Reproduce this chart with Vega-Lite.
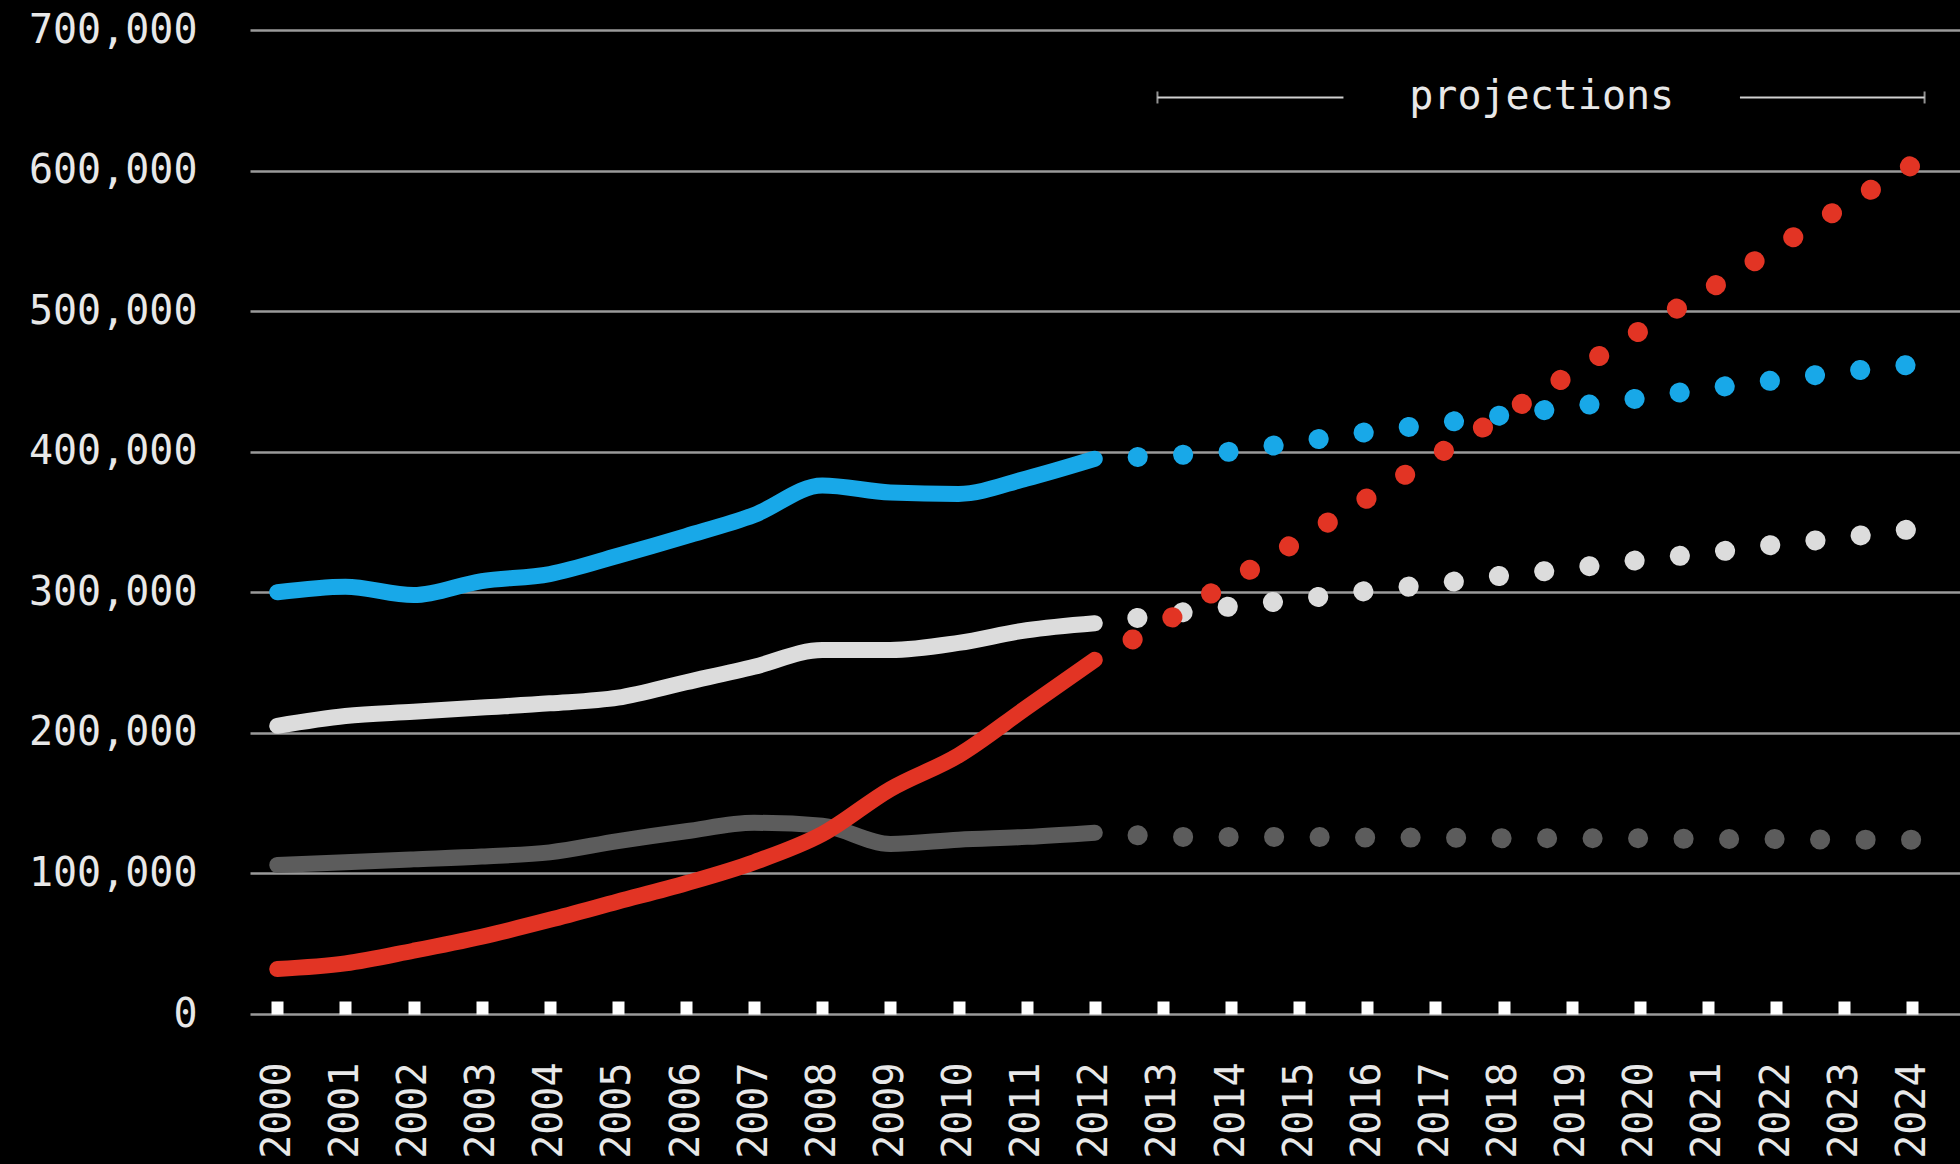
{
  "$schema": "https://vega.github.io/schema/vega-lite/v6.json",
  "width": 1710,
  "height": 984,
  "autosize": {"type": "none"},
  "padding": {"left": 250, "top": 30, "right": 0, "bottom": 150},
  "background": "#000000",
  "config": {"view": {"stroke": null}},
  "datasets": {
    "series": [
      {"year": 2000, "value": 300000, "series": "blue", "kind": "actual"},
      {"year": 2001, "value": 304000, "series": "blue", "kind": "actual"},
      {"year": 2002, "value": 298000, "series": "blue", "kind": "actual"},
      {"year": 2003, "value": 308000, "series": "blue", "kind": "actual"},
      {"year": 2004, "value": 313000, "series": "blue", "kind": "actual"},
      {"year": 2005, "value": 326000, "series": "blue", "kind": "actual"},
      {"year": 2006, "value": 340000, "series": "blue", "kind": "actual"},
      {"year": 2007, "value": 355000, "series": "blue", "kind": "actual"},
      {"year": 2008, "value": 376000, "series": "blue", "kind": "actual"},
      {"year": 2009, "value": 371000, "series": "blue", "kind": "actual"},
      {"year": 2010, "value": 370000, "series": "blue", "kind": "actual"},
      {"year": 2011, "value": 381000, "series": "blue", "kind": "actual"},
      {"year": 2012, "value": 395000, "series": "blue", "kind": "actual"},
      {"year": 2000, "value": 205000, "series": "light", "kind": "actual"},
      {"year": 2001, "value": 212000, "series": "light", "kind": "actual"},
      {"year": 2002, "value": 215000, "series": "light", "kind": "actual"},
      {"year": 2003, "value": 218000, "series": "light", "kind": "actual"},
      {"year": 2004, "value": 221000, "series": "light", "kind": "actual"},
      {"year": 2005, "value": 225000, "series": "light", "kind": "actual"},
      {"year": 2006, "value": 236000, "series": "light", "kind": "actual"},
      {"year": 2007, "value": 247000, "series": "light", "kind": "actual"},
      {"year": 2008, "value": 259000, "series": "light", "kind": "actual"},
      {"year": 2009, "value": 259000, "series": "light", "kind": "actual"},
      {"year": 2010, "value": 264000, "series": "light", "kind": "actual"},
      {"year": 2011, "value": 273000, "series": "light", "kind": "actual"},
      {"year": 2012, "value": 278000, "series": "light", "kind": "actual"},
      {"year": 2000, "value": 106000, "series": "dark", "kind": "actual"},
      {"year": 2001, "value": 108000, "series": "dark", "kind": "actual"},
      {"year": 2002, "value": 110000, "series": "dark", "kind": "actual"},
      {"year": 2003, "value": 112000, "series": "dark", "kind": "actual"},
      {"year": 2004, "value": 115000, "series": "dark", "kind": "actual"},
      {"year": 2005, "value": 123000, "series": "dark", "kind": "actual"},
      {"year": 2006, "value": 130000, "series": "dark", "kind": "actual"},
      {"year": 2007, "value": 136000, "series": "dark", "kind": "actual"},
      {"year": 2008, "value": 134000, "series": "dark", "kind": "actual"},
      {"year": 2009, "value": 121000, "series": "dark", "kind": "actual"},
      {"year": 2010, "value": 124000, "series": "dark", "kind": "actual"},
      {"year": 2011, "value": 126000, "series": "dark", "kind": "actual"},
      {"year": 2012, "value": 129000, "series": "dark", "kind": "actual"},
      {"year": 2000, "value": 32000, "series": "red", "kind": "actual"},
      {"year": 2001, "value": 36000, "series": "red", "kind": "actual"},
      {"year": 2002, "value": 45000, "series": "red", "kind": "actual"},
      {"year": 2003, "value": 55000, "series": "red", "kind": "actual"},
      {"year": 2004, "value": 67000, "series": "red", "kind": "actual"},
      {"year": 2005, "value": 80000, "series": "red", "kind": "actual"},
      {"year": 2006, "value": 93000, "series": "red", "kind": "actual"},
      {"year": 2007, "value": 108000, "series": "red", "kind": "actual"},
      {"year": 2008, "value": 128000, "series": "red", "kind": "actual"},
      {"year": 2009, "value": 160000, "series": "red", "kind": "actual"},
      {"year": 2010, "value": 184000, "series": "red", "kind": "actual"},
      {"year": 2011, "value": 218000, "series": "red", "kind": "actual"},
      {"year": 2012, "value": 252000, "series": "red", "kind": "actual"},
      {"year": 2012, "value": 395000, "series": "blue", "kind": "projection"},
      {"year": 2013, "value": 397000, "series": "blue", "kind": "projection"},
      {"year": 2014, "value": 400000, "series": "blue", "kind": "projection"},
      {"year": 2015, "value": 407000, "series": "blue", "kind": "projection"},
      {"year": 2016, "value": 414000, "series": "blue", "kind": "projection"},
      {"year": 2017, "value": 420000, "series": "blue", "kind": "projection"},
      {"year": 2018, "value": 426000, "series": "blue", "kind": "projection"},
      {"year": 2019, "value": 432000, "series": "blue", "kind": "projection"},
      {"year": 2020, "value": 438000, "series": "blue", "kind": "projection"},
      {"year": 2021, "value": 445000, "series": "blue", "kind": "projection"},
      {"year": 2022, "value": 451000, "series": "blue", "kind": "projection"},
      {"year": 2023, "value": 457000, "series": "blue", "kind": "projection"},
      {"year": 2024, "value": 462000, "series": "blue", "kind": "projection"},
      {"year": 2012, "value": 278000, "series": "light", "kind": "projection"},
      {"year": 2013, "value": 284000, "series": "light", "kind": "projection"},
      {"year": 2014, "value": 290000, "series": "light", "kind": "projection"},
      {"year": 2015, "value": 295000, "series": "light", "kind": "projection"},
      {"year": 2016, "value": 301000, "series": "light", "kind": "projection"},
      {"year": 2017, "value": 306000, "series": "light", "kind": "projection"},
      {"year": 2018, "value": 312000, "series": "light", "kind": "projection"},
      {"year": 2019, "value": 317000, "series": "light", "kind": "projection"},
      {"year": 2020, "value": 323000, "series": "light", "kind": "projection"},
      {"year": 2021, "value": 328000, "series": "light", "kind": "projection"},
      {"year": 2022, "value": 334000, "series": "light", "kind": "projection"},
      {"year": 2023, "value": 339000, "series": "light", "kind": "projection"},
      {"year": 2024, "value": 345000, "series": "light", "kind": "projection"},
      {"year": 2012, "value": 129000, "series": "dark", "kind": "projection"},
      {"year": 2013, "value": 126000, "series": "dark", "kind": "projection"},
      {"year": 2014, "value": 126000, "series": "dark", "kind": "projection"},
      {"year": 2015, "value": 126000, "series": "dark", "kind": "projection"},
      {"year": 2016, "value": 125500, "series": "dark", "kind": "projection"},
      {"year": 2017, "value": 125500, "series": "dark", "kind": "projection"},
      {"year": 2018, "value": 125000, "series": "dark", "kind": "projection"},
      {"year": 2019, "value": 125000, "series": "dark", "kind": "projection"},
      {"year": 2020, "value": 125000, "series": "dark", "kind": "projection"},
      {"year": 2021, "value": 124500, "series": "dark", "kind": "projection"},
      {"year": 2022, "value": 124500, "series": "dark", "kind": "projection"},
      {"year": 2023, "value": 124000, "series": "dark", "kind": "projection"},
      {"year": 2024, "value": 124000, "series": "dark", "kind": "projection"},
      {"year": 2012, "value": 252000, "series": "red", "kind": "projection"},
      {"year": 2013, "value": 278000, "series": "red", "kind": "projection"},
      {"year": 2014, "value": 308000, "series": "red", "kind": "projection"},
      {"year": 2015, "value": 337000, "series": "red", "kind": "projection"},
      {"year": 2016, "value": 367000, "series": "red", "kind": "projection"},
      {"year": 2017, "value": 397000, "series": "red", "kind": "projection"},
      {"year": 2018, "value": 426000, "series": "red", "kind": "projection"},
      {"year": 2019, "value": 456000, "series": "red", "kind": "projection"},
      {"year": 2020, "value": 486000, "series": "red", "kind": "projection"},
      {"year": 2021, "value": 515000, "series": "red", "kind": "projection"},
      {"year": 2022, "value": 545000, "series": "red", "kind": "projection"},
      {"year": 2023, "value": 575000, "series": "red", "kind": "projection"},
      {"year": 2024, "value": 604000, "series": "red", "kind": "projection"}
    ],
    "annotation": [
      {"label": "projections", "start": 2012.92, "end": 2024.18, "gapStart": 2015.65, "gapEnd": 2021.47, "level": 652000}
    ]
  },
  "layer": [
    {
      "data": {"name": "series"},
      "transform": [{"filter": "datum.kind === 'actual'"}],
      "mark": {"type": "line", "strokeWidth": 16, "strokeCap": "round", "strokeJoin": "round", "interpolate": "monotone"},
      "encoding": {
        "x": {
          "field": "year", "type": "quantitative",
          "scale": {"domain": [1999.6, 2024.7], "nice": false, "zero": false},
          "axis": {
            "title": null,
            "values": [2000, 2001, 2002, 2003, 2004, 2005, 2006, 2007, 2008, 2009, 2010, 2011, 2012, 2013, 2014, 2015, 2016, 2017, 2018, 2019, 2020, 2021, 2022, 2023, 2024],
            "format": "d",
            "labelAngle": -90,
            "labelAlign": "right",
            "labelBaseline": "middle",
            "labelFont": "DejaVu Sans Mono",
            "labelFontSize": 40,
            "labelColor": "#e8e8e8",
            "labelPadding": 61,
            "labelOverlap": false,
            "labelFlush": false,
            "domain": false,
            "grid": false,
            "ticks": true,
            "tickSize": -13,
            "tickWidth": 12,
            "tickCap": "butt",
            "tickColor": "#ffffff"
          }
        },
        "y": {
          "field": "value", "type": "quantitative",
          "scale": {"domain": [0, 700000], "nice": false},
          "axis": {
            "title": null,
            "values": [0, 100000, 200000, 300000, 400000, 500000, 600000, 700000],
            "format": ",.0f",
            "labelFont": "DejaVu Sans Mono",
            "labelFontSize": 40,
            "labelColor": "#e8e8e8",
            "labelPadding": 53,
            "domain": false,
            "ticks": false,
            "grid": true,
            "gridColor": "#9a9a9a",
            "gridWidth": 2.5
          }
        },
        "color": {
          "field": "series", "type": "nominal", "legend": null,
          "scale": {"domain": ["dark", "light", "blue", "red"], "range": ["#5c5c5c", "#dcdcdc", "#18a8e8", "#e23424"]}
        }
      }
    },
    {
      "data": {"name": "series"},
      "transform": [{"filter": "datum.kind === 'projection'"}],
      "mark": {"type": "line", "strokeWidth": 20, "strokeCap": "round", "strokeDash": [0.1, 45.4], "strokeDashOffset": 2.6},
      "encoding": {
        "x": {"field": "year", "type": "quantitative"},
        "y": {"field": "value", "type": "quantitative"},
        "color": {"field": "series", "type": "nominal", "legend": null}
      }
    },
    {
      "data": {"name": "annotation"},
      "mark": {"type": "rule", "color": "#d0d0d0", "strokeWidth": 2},
      "encoding": {
        "x": {"field": "start", "type": "quantitative"},
        "x2": {"field": "gapStart"},
        "y": {"field": "level", "type": "quantitative"}
      }
    },
    {
      "data": {"name": "annotation"},
      "mark": {"type": "rule", "color": "#d0d0d0", "strokeWidth": 2},
      "encoding": {
        "x": {"field": "gapEnd", "type": "quantitative"},
        "x2": {"field": "end"},
        "y": {"field": "level", "type": "quantitative"}
      }
    },
    {
      "data": {"name": "annotation"},
      "mark": {"type": "tick", "color": "#d0d0d0", "orient": "vertical", "size": 12, "thickness": 2},
      "encoding": {
        "x": {"field": "start", "type": "quantitative"},
        "y": {"field": "level", "type": "quantitative"}
      }
    },
    {
      "data": {"name": "annotation"},
      "mark": {"type": "tick", "color": "#d0d0d0", "orient": "vertical", "size": 12, "thickness": 2},
      "encoding": {
        "x": {"field": "end", "type": "quantitative"},
        "y": {"field": "level", "type": "quantitative"}
      }
    },
    {
      "data": {"name": "annotation"},
      "transform": [{"calculate": "(datum.gapStart + datum.gapEnd) / 2", "as": "mid"}],
      "mark": {"type": "text", "font": "DejaVu Sans Mono", "fontSize": 40, "align": "center", "baseline": "middle", "color": "#e8e8e8"},
      "encoding": {
        "x": {"field": "mid", "type": "quantitative"},
        "y": {"field": "level", "type": "quantitative"},
        "text": {"field": "label"}
      }
    }
  ]
}
